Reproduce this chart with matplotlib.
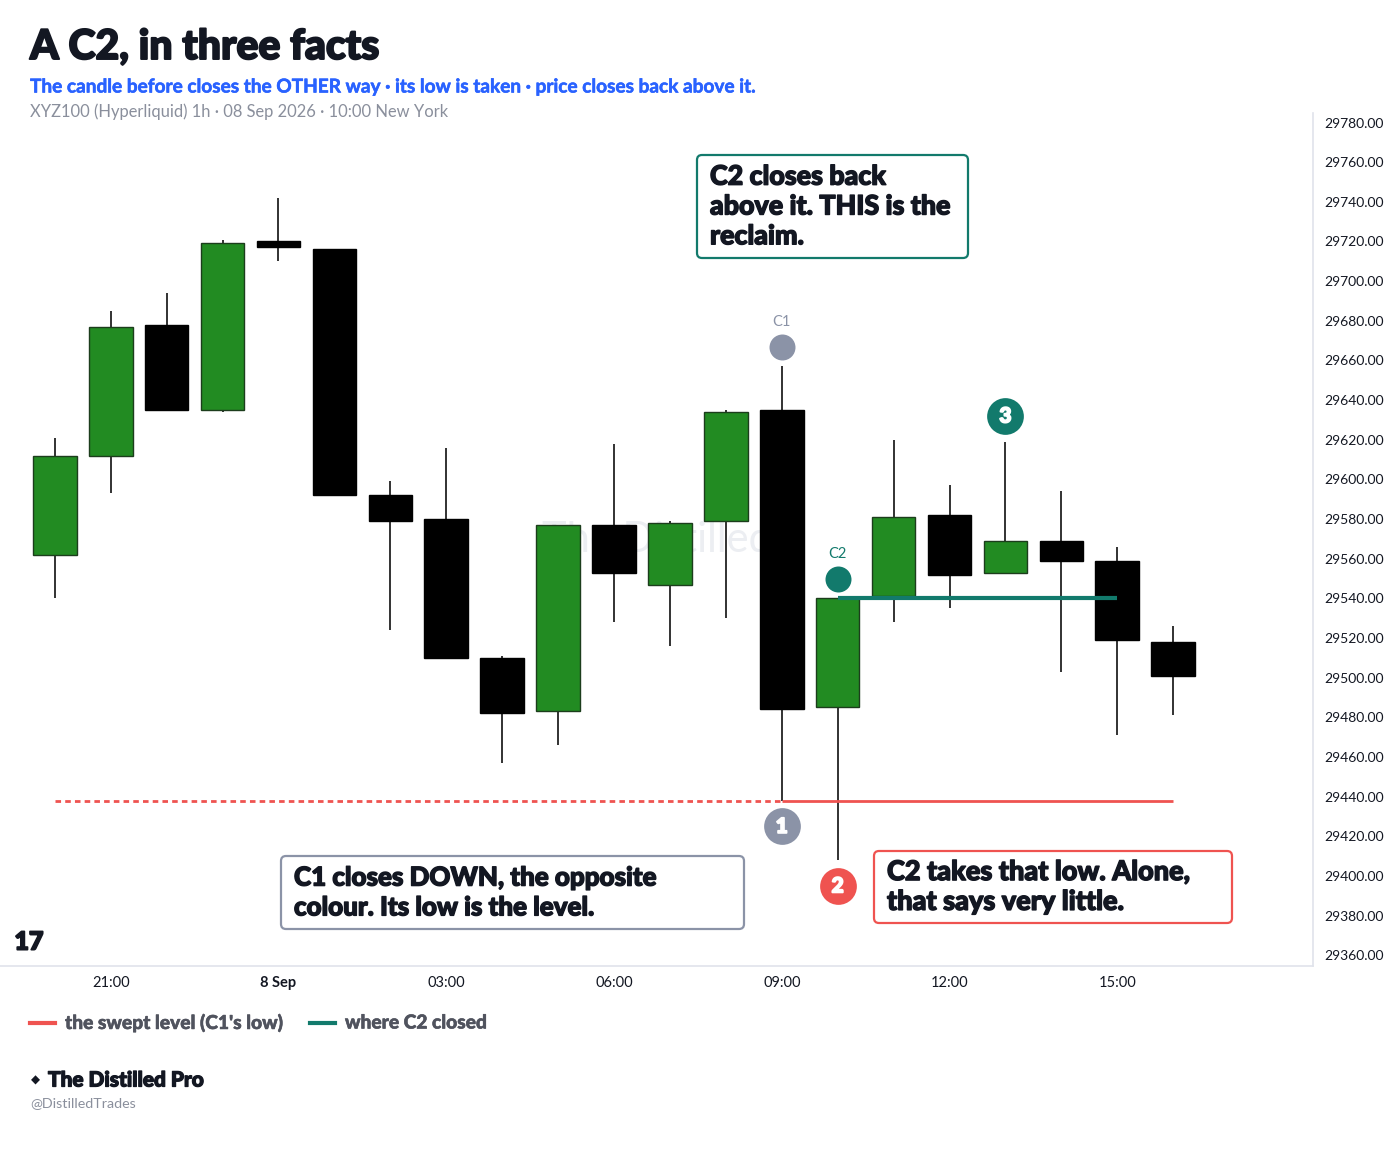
import matplotlib
matplotlib.use("Agg")
import matplotlib.pyplot as plt
import matplotlib.patheffects as pe
from matplotlib import font_manager as fm
from matplotlib.font_manager import FontProperties
from matplotlib.lines import Line2D
from matplotlib.patches import FancyBboxPatch

# --- DATA ---
hours = ["20:00", "21:00", "22:00", "23:00", "00:00", "01:00", "02:00", "03:00", "04:00",
         "05:00", "06:00", "07:00", "08:00", "09:00", "10:00", "11:00", "12:00", "13:00",
         "14:00", "15:00", "16:00"]
opens = [29562, 29612, 29678, 29635, 29720, 29716, 29592, 29580, 29510, 29483, 29577,
         29547, 29579, 29635, 29485, 29541, 29582, 29553, 29569, 29559, 29518]
highs = [29621, 29685, 29694, 29721, 29742, 29716, 29599, 29616, 29511, 29577, 29618,
         29579, 29635, 29657, 29540, 29620, 29597, 29619, 29594, 29566, 29526]
lows = [29540, 29593, 29635, 29634, 29710, 29592, 29524, 29510, 29457, 29466, 29528,
        29516, 29530, 29438, 29408, 29528, 29535, 29553, 29503, 29471, 29481]
closes = [29612, 29677, 29635, 29719, 29717, 29592, 29579, 29510, 29482, 29577, 29553,
          29578, 29634, 29484, 29540, 29581, 29552, 29569, 29559, 29519, 29501]

tick_idx = [1, 4, 7, 10, 13, 16, 19]
tick_labels = ["21:00", "8 Sep", "03:00", "06:00", "09:00", "12:00", "15:00"]
price_ticks = list(range(29360, 29781, 20))

c1_idx, c2_idx, c3_idx = 13, 14, 17
swept_level = lows[c1_idx]
c2_close = closes[c2_idx]

GREEN = "#228b22"
RED = "#ef5350"
TEAL = "#127a6c"
SLATE = "#8b93a7"
INK = "#131722"
GREY = "#8a8f9c"


def lato(style, size):
    # pick the static Lato file directly so the weight is exact
    for f in fm.fontManager.ttflist:
        if f.fname.endswith("Lato-" + style + ".ttf"):
            return FontProperties(fname=f.fname, size=size)
    return FontProperties(family="DejaVu Sans", weight="bold", size=size)


def thick(color, w=1.0):
    # the reference uses a heavier face than Lato Black, so fatten the strokes a little
    return [pe.withStroke(linewidth=w, foreground=color)]


# --- FIGURE ---
W, H = 1400, 1153
fig = plt.figure(figsize=(W / 100, H / 100), dpi=100)
fig.patch.set_facecolor("white")
ax = fig.add_axes([0, 1 - 966 / H, 1313 / W, (966 - 113) / H])

ax.text(0.5, 0.5, "The Distilled", transform=ax.transAxes, ha="center", va="center",
        fontproperties=lato("Regular", 30), color="#eceef2", zorder=0)

# --- CANDLES ---
for i in range(len(hours)):
    up = closes[i] >= opens[i]
    face = GREEN if up else "black"
    edge = "#1c3d1c" if up else "black"
    ax.vlines(i, lows[i], highs[i], color="#222222", lw=1.3, zorder=2)
    bottom = min(opens[i], closes[i])
    height = max(abs(closes[i] - opens[i]), 2)
    ax.bar(i, height, bottom=bottom, width=0.78, color=face, edgecolor=edge, lw=1, zorder=3)

# --- LEVELS ---
ax.hlines(swept_level, 0, c1_idx, color=RED, lw=2, linestyles=(0, (2, 1.5)), zorder=4)
ax.hlines(swept_level, c1_idx, len(hours) - 1, color=RED, lw=2, zorder=4)
ax.hlines(c2_close, c2_idx, 19, color=TEAL, lw=3, zorder=4)

# --- MARKERS ---
ax.scatter([c1_idx], [29667], s=350, color=SLATE, zorder=5, linewidths=0)
ax.text(c1_idx, 29676, "C1", ha="center", va="bottom", fontproperties=lato("Regular", 10.5), color=SLATE)
ax.scatter([c2_idx], [29550], s=350, color=TEAL, zorder=5, linewidths=0)
ax.text(c2_idx, 29559, "C2", ha="center", va="bottom", fontproperties=lato("Regular", 10.5), color=TEAL)

badges = [(c1_idx, 29425, "1", SLATE), (c2_idx, 29395, "2", RED), (c3_idx, 29632, "3", TEAL)]
for bx, by, num, col in badges:
    ax.scatter([bx], [by], s=700, color=col, zorder=6, linewidths=0)
    ax.text(bx, by, num, ha="center", va="center", fontproperties=lato("Black", 15),
            color="white", zorder=7, path_effects=thick("white", 1.3))

# --- CALLOUTS (pixel boxes: left, top, right, bottom) ---
callouts = [
    ((697, 155, 968, 258), "C2 closes back\nabove it. THIS is the\nreclaim.", TEAL, 19.3),
    ((281, 856, 744, 929), "C1 closes DOWN, the opposite\ncolour. Its low is the level.", SLATE, 18.7),
    ((874, 851, 1232, 923), "C2 takes that low. Alone,\nthat says very little.", RED, 19.5),
]
for (l, t, r, b), txt, col, fs in callouts:
    box = FancyBboxPatch((l / 100, (H - b) / 100), (r - l) / 100, (b - t) / 100,
                         boxstyle="round,pad=0,rounding_size=0.05", transform=fig.dpi_scale_trans,
                         facecolor="white", edgecolor=col, lw=1.6, zorder=8)
    fig.add_artist(box)
    fig.text((l + 13) / W, 1 - (t + b) / 2 / H, txt, ha="left", va="center",
             fontproperties=lato("Black", fs), color=INK, linespacing=1.29, zorder=9,
             path_effects=thick(INK, 1.0))

# --- AXES ---
ax.set_xlim(-0.98, 22.5)
ax.set_ylim(29354.6, 29784.8)
ax.yaxis.tick_right()
ax.set_yticks(price_ticks)
ax.set_yticklabels([f"{p:.2f}" for p in price_ticks])
ax.set_xticks(tick_idx)
ax.set_xticklabels(tick_labels)
ax.tick_params(axis="y", length=0, pad=8, labelcolor=INK)
ax.tick_params(axis="x", length=0, pad=7, labelcolor=INK)
for lab in ax.get_yticklabels():
    lab.set_fontproperties(lato("Regular", 10))
for lab in ax.get_xticklabels():
    lab.set_fontproperties(lato("Bold" if lab.get_text() == "8 Sep" else "Regular", 10.5))
for side in ["top", "left"]:
    ax.spines[side].set_visible(False)
for side in ["right", "bottom"]:
    ax.spines[side].set_color("#e0e3eb")
    ax.spines[side].set_linewidth(1.2)

ax.text(0.011, 0.028, "17", transform=ax.transAxes, ha="left", va="center",
        fontproperties=lato("Black", 18), color=INK, path_effects=thick(INK, 1.3))

# --- TITLES ---
fig.text(30 / W, 1 - 47 / H, "A C2, in three facts", ha="left", va="center",
         fontproperties=lato("Black", 29.5), color=INK, path_effects=thick(INK, 1.4))
fig.text(30 / W, 1 - 87 / H,
         "The candle before closes the OTHER way \u00b7 its low is taken \u00b7 price closes back above it.",
         ha="left", va="center", fontproperties=lato("Bold", 13.7), color="#2962ff",
         path_effects=thick("#2962ff", 0.4))
fig.text(30 / W, 1 - 112 / H, "XYZ100 (Hyperliquid) 1h \u00b7 08 Sep 2026 \u00b7 10:00 New York",
         ha="left", va="center", fontproperties=lato("Regular", 11.9), color=GREY)

# --- LEGEND ---
legend_items = [(30, "the swept level (C1's low)", RED), (310, "where C2 closed", TEAL)]
for lx, label, col in legend_items:
    fig.add_artist(Line2D([lx / W, (lx + 25) / W], [1 - 1023 / H] * 2, color=col, lw=3,
                          transform=fig.transFigure))
    fig.text((lx + 35) / W, 1 - 1023 / H, label, ha="left", va="center",
             fontproperties=lato("Black", 13.8), color="#50535e",
             path_effects=thick("#50535e", 0.4))

# --- FOOTER ---
fig.text(31 / W, 1 - 1080 / H, "\u25c6", ha="left", va="center",
         fontproperties=FontProperties(family="DejaVu Sans", size=8.5), color=INK)
fig.text(48 / W, 1 - 1080 / H, "The Distilled Pro", ha="left", va="center",
         fontproperties=lato("Black", 15), color=INK, path_effects=thick(INK, 0.9))
fig.text(30 / W, 1 - 1103 / H, "@DistilledTrades", ha="left", va="center",
         fontproperties=lato("Regular", 10.3), color=GREY)

fig.savefig("out.png", dpi=100, facecolor="white")
